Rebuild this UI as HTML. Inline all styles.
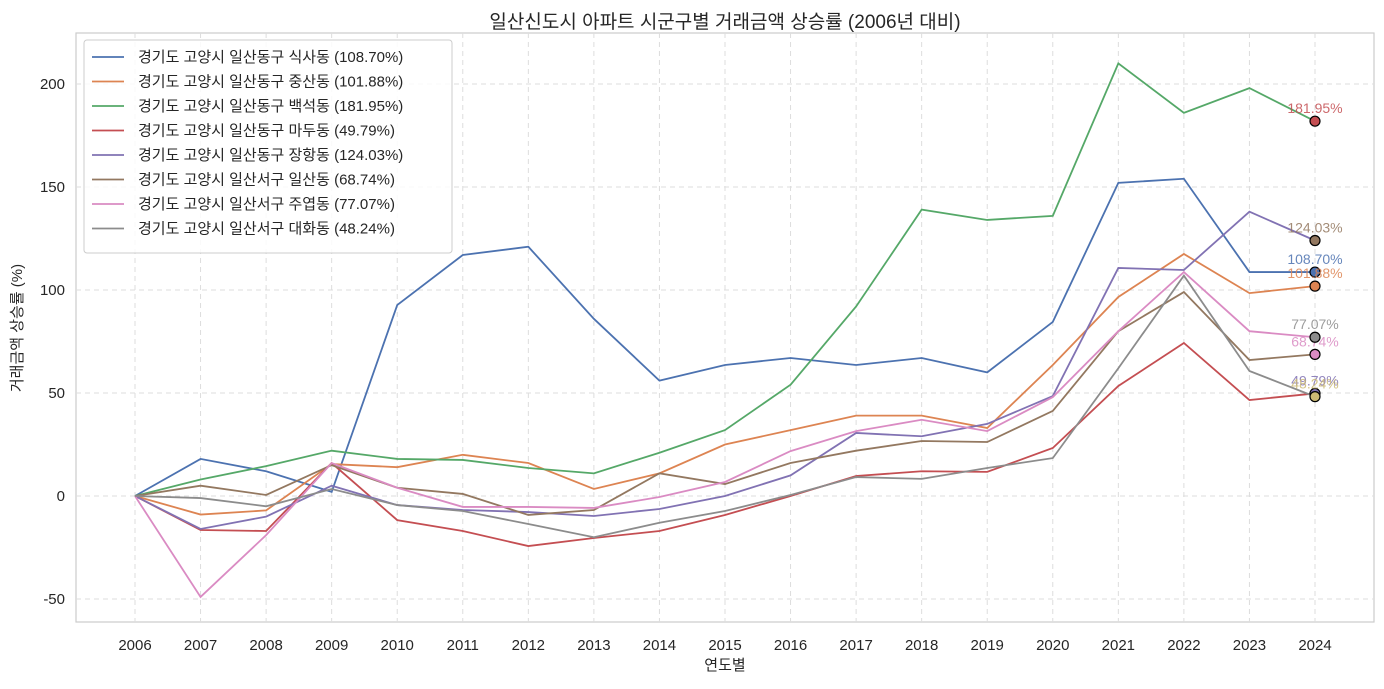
<!DOCTYPE html>
<html><head><meta charset="utf-8">
<style>
body{margin:0;background:#fff;}
svg text{font-family:"Liberation Sans","Noto Sans CJK KR",sans-serif;}
</style></head>
<body>
<svg id="chart" width="1384" height="684" xmlns="http://www.w3.org/2000/svg">
<rect width="1384" height="684" fill="#fff"/>
<text x="725" y="28" font-size="19" text-anchor="middle" fill="#262626">일산신도시 아파트 시군구별 거래금액 상승률 (2006년 대비)</text>
<rect x="76" y="33" width="1298" height="589" fill="#fff" stroke="#ccc" stroke-width="1.2"/>
<g id="grid"></g><g id="series"></g><g id="ends"></g><g id="axes"></g><g id="legend"></g>
<text x="725" y="670" font-size="15" text-anchor="middle" fill="#262626">연도별</text>
<text transform="translate(22,328) rotate(-90)" font-size="15" text-anchor="middle" fill="#262626">거래금액 상승률 (%)</text>
</svg>
<script>
const years=[2006,2007,2008,2009,2010,2011,2012,2013,2014,2015,2016,2017,2018,2019,2020,2021,2022,2023,2024];
const yTicks=[-50,0,50,100,150,200];
const names=["경기도 고양시 일산동구 식사동","경기도 고양시 일산동구 중산동","경기도 고양시 일산동구 백석동","경기도 고양시 일산동구 마두동","경기도 고양시 일산동구 장항동","경기도 고양시 일산서구 일산동","경기도 고양시 일산서구 주엽동","경기도 고양시 일산서구 대화동"];
const sSiksa=[0,18,12,2,92.7,117,121,86,56,63.6,67,63.6,67,60,84.5,152,154,108.7,108.70];
const sJungsan=[0,-9,-7,15.5,14,20,16,3.4,11,25,32,39,39,33,63.6,96.6,117.5,98.5,101.88];
const sBaekseok=[0,8,14.5,22,18,17.5,13.6,11,21,32,54,92,139,134,136,210,186,198,181.95];
const sMadu=[0,-16.5,-17,16,-11.7,-17,-24.3,-20.4,-17,-9.2,0,9.7,12,11.7,23.3,53.4,74.3,46.6,49.79];
const sJanghang=[0,-16,-10,5,-4.4,-6.8,-7.8,-9.7,-6.3,0,10,30.6,29,35,48.5,110.7,109.7,138,124.03];
const sIlsan=[0,5,0.5,15,4,1,-9.2,-6.8,11,5.8,16,22,26.7,26.2,41.3,80,99,66,68.74];
const sJuyeop=[0,-49,-19,16,4,-5.3,-5.3,-5.8,-0.5,6.8,21.8,31.5,37,31.5,48,80,108.7,80,77.07];
const sDaehwa=[0,-1,-5,3.4,-4.4,-7.3,-13.6,-20,-13,-7.3,0.5,9.2,8.3,13.6,18.4,62,107,60.7,48.24];
const series=[sSiksa,sJungsan,sBaekseok,sMadu,sJanghang,sIlsan,sJuyeop,sDaehwa];
const colors=["#4c72b0","#dd8452","#55a868","#c44e52","#8172b3","#937860","#da8bc3","#8c8c8c"];
const endDot=["#4c72b0","#dd8452","#c44e52","#8172b3","#937860","#da8bc3","#8c8c8c","#ccb974"];
const NS="http://www.w3.org/2000/svg";
const x=i=>135+(1315-135)*i/(years.length-1);
const y=v=>496-2.06*v;
function mk(t,a,p){const e=document.createElementNS(NS,t);for(const k in a)e.setAttribute(k,a[k]);document.getElementById(p).appendChild(e);return e;}
years.forEach((yr,i)=>{
 const g=mk('line',{x1:x(i),x2:x(i),y1:33,y2:622,stroke:'#ddd','stroke-dasharray':'5,4'},'grid');
 
 
 const t=mk('text',{x:x(i),y:650,'font-size':15,'text-anchor':'middle',fill:'#262626'},'axes');t.textContent=yr;
 
 
});
yTicks.forEach(v=>{
 const g=mk('line',{x1:76,x2:1374,y1:y(v),y2:y(v),stroke:'#ddd','stroke-dasharray':'5,4'},'grid');
 
 
 const t=mk('text',{x:65,y:y(v)+5,'font-size':15,'text-anchor':'end',fill:'#262626'},'axes');t.textContent=v;
 
 
});
series.forEach((s,k)=>{
 const p=mk('polyline',{points:s.map((v,i)=>x(i)+','+y(v)).join(' '),fill:'none',stroke:colors[k],'stroke-width':1.8},'series');
 
 
});
series.forEach((s,k)=>{
 const v=s[s.length-1],i=s.length-1;
 const c=mk('circle',{cx:x(i),cy:y(v),r:5,fill:endDot[k],stroke:'#000','stroke-width':1.2},'ends');
 
 
 const t=mk('text',{x:x(i),y:y(v)-8,'font-size':14,'text-anchor':'middle',fill:endDot[k],opacity:0.85},'ends');t.textContent=v.toFixed(2)+'%';
 
 
});
const box=mk('rect',{x:84,y:40,width:368,height:213,rx:3,fill:'#fff','fill-opacity':0.85,stroke:'#ccc'},'legend');


names.forEach((n,k)=>{
 const s=series[k],ly=57+24.5*k;
 const l=mk('line',{x1:92,x2:124,y1:ly,y2:ly,stroke:colors[k],'stroke-width':1.8},'legend');
 
 
 const t=mk('text',{x:138,y:ly+5,'font-size':15,fill:'#262626'},'legend');t.textContent=n+' ('+s[s.length-1].toFixed(2)+'%)';
 
 
});
</script>
</body></html>
